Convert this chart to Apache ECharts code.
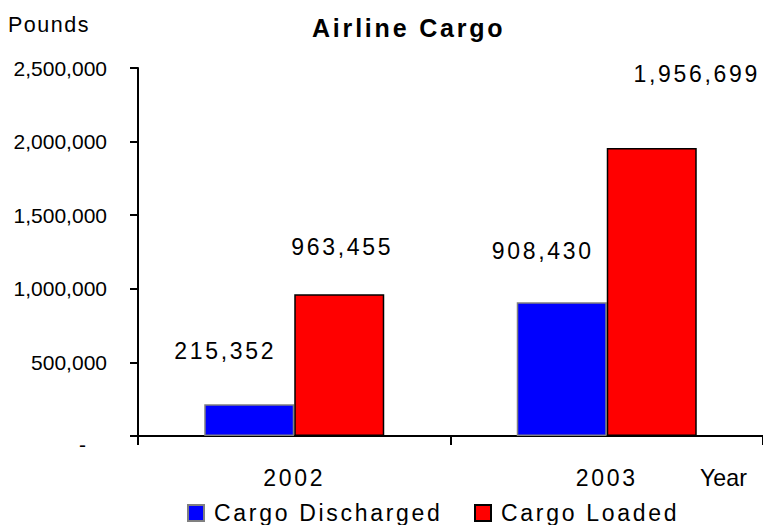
<!DOCTYPE html>
<html><head><meta charset="utf-8">
<script src="https://cdn.jsdelivr.net/npm/echarts@6/dist/echarts.min.js"></script>
<style>
html,body{margin:0;padding:0;background:#fff;}
#c{width:763px;height:525px;}
#c text[style*="25px"]{letter-spacing:2.8px;}
#c text[style*="23px"]{letter-spacing:2.7px;}
#c text[style*="21.5px"]{letter-spacing:1.5px;}
</style></head><body><div id="c"></div>
<script>
// ---- data ----
const categories = ['2002', '2003'];
const seriesNames = ['Cargo Discharged', 'Cargo Loaded'];
const cargoDischarged = [215352, 908430];
const cargoLoaded = [963455, 1956699];
const yMin = 0, yMax = 2500000, yStep = 500000;

// ---- label nudges (styling, relative offsets in px) ----
const dischargedNudge = [[-24, -42], [-19, -40]];
const loadedNudge = [[3, -36], [45, -62]];

const FONT = 'Arial, Liberation Sans, Helvetica, sans-serif';
const fmt = v => Number(v).toLocaleString('en-US');
const withLabels = (vals, nudges) => vals.map((v, i) => ({ value: v, label: { offset: nudges[i] } }));

const chart = echarts.init(document.getElementById('c'), null, { renderer: 'svg' });
const labelStyle = { show: true, position: 'top', distance: 0, fontSize: 23, color: '#000', fontFamily: FONT, formatter: p => fmt(p.value) };
const legendBase = {
  orient: 'horizontal', padding: 0, itemWidth: 16, itemHeight: 16, icon: 'rect', top: 501.5,
  textStyle: { fontSize: 23, color: '#000', fontFamily: FONT, padding: [0, 0, 0, 5] }
};

chart.setOption({
  animation: false,
  backgroundColor: '#fff',
  textStyle: { fontFamily: FONT },
  title: [
    { text: 'Airline Cargo', left: 312, top: 15, padding: 0, textStyle: { fontSize: 25, fontWeight: 'bold', color: '#000', fontFamily: FONT } },
    { text: 'Pounds', left: 8, top: 14, padding: 0, textStyle: { fontSize: 21.5, fontWeight: 'normal', color: '#000', fontFamily: FONT } },
    { text: 'Year', left: 700, top: 466, padding: 0, textStyle: { fontSize: 23.2, fontWeight: 'normal', color: '#000', fontFamily: FONT } }
  ],
  legend: [
    Object.assign({}, legendBase, { data: [seriesNames[0]], left: 187 }),
    Object.assign({}, legendBase, { data: [seriesNames[1]], left: 474 })
  ],
  grid: { left: 138, right: 0, top: 68, bottom: 89, containLabel: false, outerBoundsMode: 'none' },
  xAxis: {
    type: 'category', data: categories,
    axisLine: { lineStyle: { color: '#000', width: 2 } },
    axisTick: { show: true, length: 9, lineStyle: { color: '#000', width: 2 } },
    axisLabel: { margin: 30, fontSize: 23, color: '#000', fontFamily: FONT }
  },
  yAxis: {
    type: 'value', min: yMin, max: yMax, interval: yStep,
    splitLine: { show: false },
    axisLine: { show: true, lineStyle: { color: '#000', width: 2 } },
    axisTick: { show: true, length: 8, lineStyle: { color: '#000', width: 2 } },
    axisLabel: {
      margin: 31, fontSize: 21, color: '#000', fontFamily: FONT,
      formatter: v => v === 0 ? '{z|-}' : fmt(v),
      rich: { z: { fontSize: 21, color: '#000', fontFamily: FONT, padding: [16, 21, 0, 0] } }
    }
  },
  series: [
    {
      name: seriesNames[0], type: 'bar', data: withLabels(cargoDischarged, dischargedNudge),
      barWidth: 90, barGap: '0%',
      itemStyle: { color: '#0000ff', borderColor: '#808080', borderWidth: 1.5 },
      label: labelStyle
    },
    {
      name: seriesNames[1], type: 'bar', data: withLabels(cargoLoaded, loadedNudge),
      barWidth: 90, barGap: '0%',
      itemStyle: { color: '#ff0000', borderColor: '#000', borderWidth: 1.5 },
      label: labelStyle
    }
  ]
});
</script></body></html>
